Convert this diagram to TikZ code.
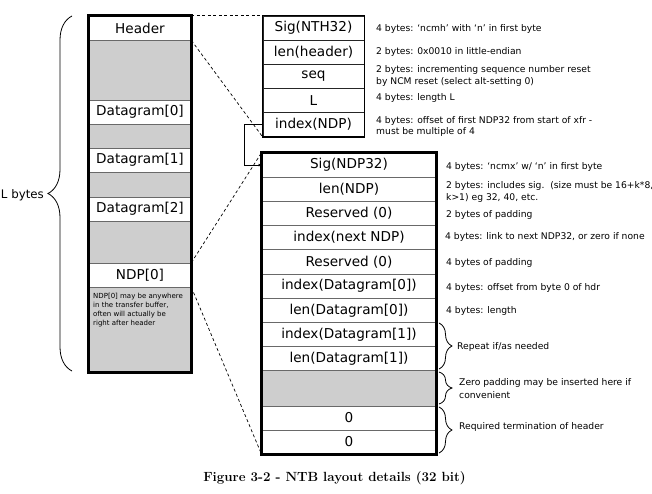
\documentclass[tikz,border=0pt]{standalone}
\usepackage{fontspec}
\setsansfont{DejaVu Sans}
\usetikzlibrary{arrows.meta,positioning,decorations.pathreplacing}
\definecolor{padgray}{RGB}{206,206,206}
\definecolor{rulegray}{RGB}{105,105,105}

\begin{document}
\begin{tikzpicture}[x=1pt, y=-1pt]
    \tikzstyle{cell} = [rectangle, draw=rulegray, line width=0.8pt, inner sep=0pt, text centered, minimum height=24, font=\sffamily\fontsize{13.6}{16}\selectfont]
    \tikzstyle{gap} = [cell, fill=padgray]
    \tikzstyle{lcol} = [minimum width=102]
    \tikzstyle{hcol} = [minimum width=101, draw=black!85]
    \tikzstyle{ncol} = [minimum width=174]
    \tikzstyle{note} = [anchor=west, align=left, inner sep=0pt, font=\sffamily\fontsize{9.2}{11.5}\selectfont]
    \tikzstyle{link} = [line width=0.7pt, dash pattern=on 3pt off 2.5pt]
    \tikzstyle{curly} = [decorate, line width=0.8pt]
    \useasboundingbox (0,0) rectangle (652,494);

    % Transfer buffer
    \node[cell, lcol] (hdr) at (140,28) {Header};
    \node[gap, lcol, minimum height=60] (lgap0) at (140,70) {};
    \node[cell, lcol] (dg0) at (140,112) {Datagram[0]};
    \node[gap, lcol] (lgap1) at (140,136) {};
    \node[cell, lcol] (dg1) at (140,160) {Datagram[1]};
    \node[gap, lcol, minimum height=25] (lgap2) at (140,184.5) {};
    \node[cell, lcol] (dg2) at (140,209) {Datagram[2]};
    \node[gap, lcol, minimum height=42] (lgap3) at (140,242) {};
    \node[cell, lcol] (ndp0) at (140,275) {NDP[0]};
    \node[gap, lcol, minimum height=85] (lgap4) at (140,329.5) {};
    \node[anchor=north west, align=left, inner sep=0pt, font=\sffamily\fontsize{7}{9}\selectfont] (ndpnote) at (93,292.5) {NDP[0] may be anywhere\\in the transfer buffer,\\often will actually be\\right after header};
    \draw[line width=3pt] (hdr.north west) rectangle (lgap4.south east);

    \draw[curly, decoration={brace, amplitude=24pt}] (72,371) -- (72,16);
    \node[anchor=east, inner sep=0pt, font=\sffamily\fontsize{11.8}{14}\selectfont] (lbytes) at (44,195) {L bytes};

    % NTH32
    \node[cell, hcol] (nthsig) at (313.5,28) {Sig(NTH32)};
    \node[cell, hcol] (nthlen) at (313.5,52) {len(header)};
    \node[cell, hcol] (nthseq) at (313.5,76) {seq};
    \node[cell, hcol, minimum height=24.5] (nthblk) at (313.5,100.25) {L};
    \node[cell, hcol] (nthidx) at (313.5,124.5) {index(NDP)};
    \draw[line width=1.4pt] (nthsig.north west) rectangle (nthidx.south east);

    \node[note] (nthsignote) at (376,28.5) {4 bytes: ‘ncmh’ with ‘n’ in first byte};
    \node[note] (nthlennote) at (376,52.3) {2 bytes: 0x0010 in little-endian};
    \node[note] (nthseqnote) at (376,76) {2 bytes: incrementing sequence number reset\\by NCM reset (select alt-setting 0)};
    \node[note] (nthblknote) at (376,98) {4 bytes: length L};
    \node[note] (nthidxnote) at (376,126.7) {4 bytes: offset of first NDP32 from start of xfr -\\must be multiple of 4};

    % NDP32
    \node[cell, ncol, minimum height=24.2] (ndpsig) at (349,165.1) {Sig(NDP32)};
    \node[cell, ncol, minimum height=24.2] (ndplen) at (349,189.3) {len(NDP)};
    \node[cell, ncol, minimum height=24.2] (ndpres1) at (349,213.5) {Reserved (0)};
    \node[cell, ncol, minimum height=24.2] (ndpnext) at (349,237.7) {index(next NDP)};
    \node[cell, ncol, minimum height=24.2] (ndpres2) at (349,261.9) {Reserved (0)};
    \node[cell, ncol, minimum height=24.2] (dgidx0) at (349,286.1) {index(Datagram[0])};
    \node[cell, ncol, minimum height=24.2] (dglen0) at (349,310.3) {len(Datagram[0])};
    \node[cell, ncol, minimum height=24.2] (dgidx1) at (349,334.5) {index(Datagram[1])};
    \node[cell, ncol, minimum height=24.2] (dglen1) at (349,358.7) {len(Datagram[1])};
    \node[gap, ncol, minimum height=35.2] (ndpgap) at (349,388.4) {};
    \node[cell, ncol] (zero1) at (349,418) {0};
    \node[cell, ncol] (zero2) at (349,442) {0};
    \draw[line width=3pt] (ndpsig.north west) rectangle (zero2.south east);

    \node[note] (ndpsignote) at (446,167) {4 bytes: ‘ncmx’ w/ ‘n’ in first byte};
    \node[note] (ndplennote) at (446,192) {2 bytes: includes sig.\ \ (size must be 16+k*8,\\k>1) eg 32, 40, etc.};
    \node[note] (ndpres1note) at (446,215.3) {2 bytes of padding};
    \node[note] (ndpnextnote) at (445,236.7) {4 bytes: link to next NDP32, or zero if none};
    \node[note] (ndpres2note) at (446,262.7) {4 bytes of padding};
    \node[note] (dgidx0note) at (446,287.7) {4 bytes: offset from byte 0 of hdr};
    \node[note] (dglen0note) at (446,310.7) {4 bytes: length};

    \draw[curly, decoration={brace, amplitude=13pt}] (439,323) -- (439,369);
    \draw[curly, decoration={brace, amplitude=13pt}] (439,372) -- (439,404);
    \draw[curly, decoration={brace, amplitude=13pt}] (439,407) -- (439,453);
    \node[note] (repeatnote) at (457,347.3) {Repeat if/as needed};
    \node[note, font=\sffamily\fontsize{9.2}{13}\selectfont] (padnote) at (459,389) {Zero padding may be inserted here if\\convenient};
    \node[note] (termnote) at (459,426.7) {Required termination of header};

    % Zoom lines
    \draw[link] (hdr.north east) -- (nthsig.north west);
    \draw[link] (hdr.south east) -- (nthidx.south west);
    \draw[link] (ndp0.north east) -- (ndpsig.north west);
    \draw[link] (ndp0.south east) -- (zero2.south west);
    \draw[line width=0.8pt, -{Latex[length=3pt,width=3pt]}] (nthidx.west) -- ++(-18,0) |- (ndpsig.west);

    \node[font=\bfseries\fontsize{13.3}{16}\selectfont] (caption) at (334.5,478) {Figure 3-2 - NTB layout details (32 bit)};
\end{tikzpicture}
\end{document}
